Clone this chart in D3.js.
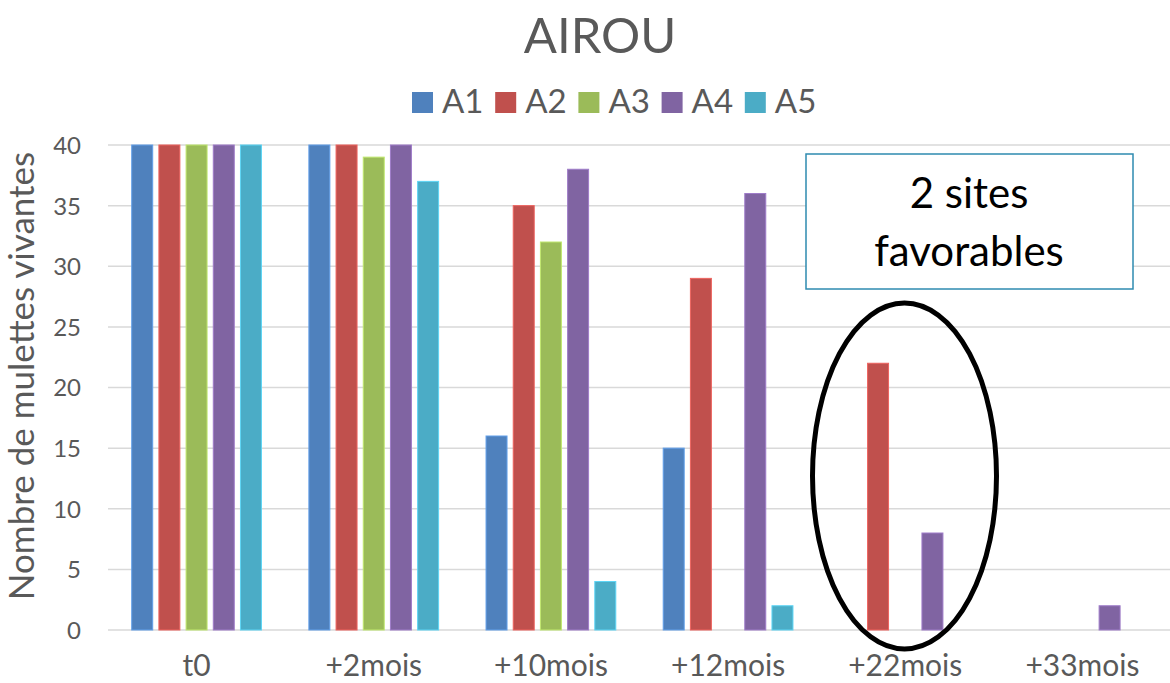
<!DOCTYPE html>
<html><head><meta charset="utf-8">
<script src="https://cdn.jsdelivr.net/npm/d3@7"></script>
<style>body{margin:0;background:#fff}svg{display:block}</style>
</head><body>
<svg id="c" width="1170" height="683"></svg>
<script>
const categories = ["t0","+2mois","+10mois","+12mois","+22mois","+33mois"];
const seriesNames = ["A1","A2","A3","A4","A5"];
const colors = ["#4f81bd","#c0504d","#9bbb59","#8064a2","#4bacc6"];
const A1 = [40,40,16,15,0,0];
const A2 = [40,40,35,29,22,0];
const A3 = [40,39,32,0,0,0];
const A4 = [40,40,38,36,8,2];
const A5 = [40,37,4,2,0,0];
const seriesValues = [A1,A2,A3,A4,A5];
const yTicks = [0,5,10,15,20,25,30,35,40];

const svg = d3.select("#c");
const font = "Lato, 'Open Sans', sans-serif";
const gray = "#595959";

const x0 = d3.scaleBand().domain(categories).range([108,1171]).padding(0);
const x1 = d3.scaleBand().domain(seriesNames).range([0,x0.bandwidth()]).paddingInner(0.228).paddingOuter(0.872);
const y = d3.scaleLinear().domain([0,40]).range([630,145]);

// gridlines
svg.append("g").selectAll("line").data(yTicks).join("line")
  .attr("x1",108).attr("x2",1170).attr("y1",d=>y(d)).attr("y2",d=>y(d))
  .attr("stroke","#d9d9d9").attr("stroke-width",1.5);

// y axis
const yAxis = d3.axisLeft(y).tickValues(yTicks).tickSize(0).tickPadding(0);
const gy = svg.append("g").attr("transform","translate(81,0)").call(yAxis);
gy.select(".domain").remove();
gy.selectAll("text").attr("font-family",font).attr("font-size",24).attr("fill",gray).attr("dy","0.35em");

// bars
const groups = svg.append("g").selectAll("g").data(categories).join("g")
  .attr("transform",d=>`translate(${x0(d)},0)`);
groups.selectAll("rect").data((c,i)=>seriesNames.map((s,j)=>({s,j,v:seriesValues[j][i]})))
  .join("rect")
  .attr("x",d=>x1(d.s)).attr("width",x1.bandwidth())
  .attr("y",d=>y(d.v)).attr("height",d=>y(0)-y(d.v))
  .attr("fill",d=>colors[d.j])
  .attr("stroke",d=>d3.color(colors[d.j]).brighter(0.6)).attr("stroke-width",d=>d.v>0?1:0);

// x axis labels
const xAxis = d3.axisBottom(x0).tickSize(0).tickPadding(0);
const gx = svg.append("g").attr("transform","translate(0,676)").call(xAxis);
gx.select(".domain").remove();
gx.selectAll("text").attr("font-family",font).attr("font-size",30).attr("fill",gray).attr("dy","0").attr("y",0);

// title
svg.append("text").attr("x",600).attr("y",53).attr("text-anchor","middle")
  .attr("font-family",font).attr("font-size",49).attr("fill",gray).text("AIROU");

// legend
const leg = svg.append("g").selectAll("g").data(seriesNames).join("g")
  .attr("transform",(d,i)=>`translate(${412+i*83.2},92)`);
leg.append("rect").attr("width",21).attr("height",21).attr("fill",(d,i)=>colors[i]);
leg.append("text").attr("x",30).attr("y",21).attr("font-family",font).attr("font-size",33).attr("fill",gray).text(d=>d);

// y title
svg.append("text").attr("transform","translate(34,376) rotate(-90)").attr("text-anchor","middle")
  .attr("font-family",font).attr("font-size",35).attr("fill",gray).text("Nombre de mulettes vivantes");

// annotation box
svg.append("rect").attr("x",806).attr("y",154).attr("width",327).attr("height",135)
  .attr("fill","#fff").attr("stroke","#2e8bb0").attr("stroke-width",1.5);
svg.append("text").attr("x",969).attr("y",208).attr("text-anchor","middle")
  .attr("font-family",font).attr("font-size",42).attr("fill","#000").text("2 sites");
svg.append("text").attr("x",969).attr("y",266).attr("text-anchor","middle")
  .attr("font-family",font).attr("font-size",42).attr("fill","#000").text("favorables");

// ellipse
svg.append("ellipse").attr("cx",904.5).attr("cy",476).attr("rx",92).attr("ry",173)
  .attr("fill","none").attr("stroke","#000").attr("stroke-width",5);
</script>
</body></html>
